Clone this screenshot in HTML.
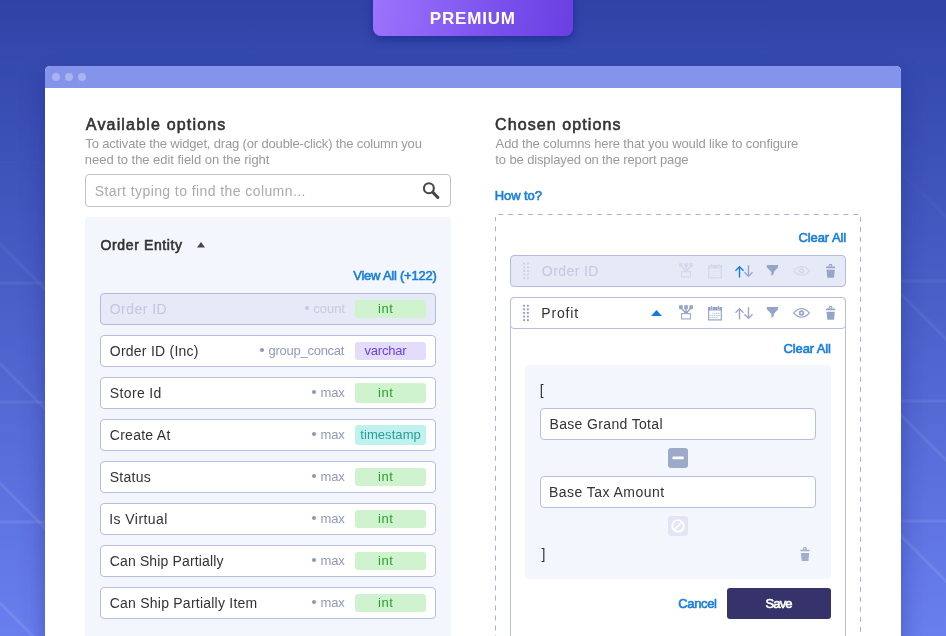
<!DOCTYPE html>
<html lang="en">
<head>
<meta charset="utf-8">
<title>Premium - Column chooser</title>
<style>
*{box-sizing:border-box;margin:0;padding:0}
html,body{width:946px;height:636px;overflow:hidden}
body{position:relative;font-family:"Liberation Sans",sans-serif;background:#3344a8;
 background-image:linear-gradient(180deg,rgb(47,67,167) 0px,rgb(105,127,238) 636px)}
.abs,.t,.row,.badge,.dot,.field,.sq{position:absolute}
.t{line-height:20px;white-space:nowrap}
#bgl{left:0;top:0;width:946px;height:636px}
#premium{left:373px;top:-10px;width:200px;height:46px;border-radius:8px;
 background:linear-gradient(100deg,#9c74fc 0%,#8c62f5 32%,#7a50ec 62%,#693fe2 100%);
 box-shadow:0 3px 10px rgba(20,28,130,.55)}
#card{left:45px;top:66px;width:856px;height:600px;border-radius:5px 5px 0 0;background:#fff;
 box-shadow:0 14px 24px rgba(30,36,130,.42)}
#bar{left:45px;top:66px;width:856px;height:22px;border-radius:5px 5px 0 0;background:#8394ea}
.wd{position:absolute;top:73px;width:8px;height:8px;border-radius:50%;background:#a9b3f0}
#search{left:85px;top:174px;width:366px;height:33px;border:1px solid #c4c4c4;border-radius:4px;background:#fff}
#lpanel{left:85px;top:217px;width:366px;height:440px;border-radius:4px;background:#f3f6fc}
.row{left:100px;width:336px;height:32px;border:1px solid #b7bee0;border-radius:4px;background:#fff}
.badge{left:355px;width:71px;height:18px;border-radius:3px}
.dot{width:4.4px;height:4.4px;border-radius:50%}
#chosen1{left:510px;top:255px;width:336px;height:32px;border:1px solid #b5bbde;border-radius:4px;background:#e6e9f6}
#profit{left:510px;top:297px;width:336px;height:360px;border:1px solid #b7bee0;border-radius:4px 4px 0 0;background:#fff}
#profithead{left:510px;top:297px;width:336px;height:32px;border:1px solid #b7bee0;border-radius:4px;background:#fff}
#ipanel{left:525px;top:365px;width:306px;height:214px;border-radius:4px;background:#f3f6fc}
.field{left:540px;width:276px;height:32px;border:1px solid #b7bee0;border-radius:4px;background:#fff}
.sq{left:668px;width:20px;height:20px;border-radius:3px}
#save{left:727px;top:588px;width:104px;height:31px;border-radius:3px;background:#36336a}
</style>
</head>
<body>
<svg id="bgl" class="abs" width="946" height="636" viewBox="0 0 946 636"><defs><linearGradient id="lg" gradientUnits="userSpaceOnUse" x1="0" y1="150" x2="0" y2="600"><stop offset="0" stop-color="#fff" stop-opacity="0"/><stop offset="0.3" stop-color="#fff" stop-opacity="0.055"/><stop offset="1" stop-color="#fff" stop-opacity="0.095"/></linearGradient></defs>
<path d="M-5 162 H46" stroke="url(#lg)" stroke-width="3.2" fill="none"/>
<path d="M-5 283 H46" stroke="url(#lg)" stroke-width="3.2" fill="none"/>
<path d="M-5 402 H46" stroke="url(#lg)" stroke-width="3.2" fill="none"/>
<path d="M-5 522 H46" stroke="url(#lg)" stroke-width="3.2" fill="none"/>
<path d="M-5 119 L60 184" stroke="url(#lg)" stroke-width="3.2" fill="none"/>
<path d="M-5 239 L60 304" stroke="url(#lg)" stroke-width="3.2" fill="none"/>
<path d="M-5 358.5 L60 423.5" stroke="url(#lg)" stroke-width="3.2" fill="none"/>
<path d="M-5 478 L60 543" stroke="url(#lg)" stroke-width="3.2" fill="none"/>
<path d="M-5 598 L60 663" stroke="url(#lg)" stroke-width="3.2" fill="none"/>
<path d="M900 161 H950" stroke="url(#lg)" stroke-width="3.2" fill="none"/>
<path d="M900 281 H950" stroke="url(#lg)" stroke-width="3.2" fill="none"/>
<path d="M900 401 H950" stroke="url(#lg)" stroke-width="3.2" fill="none"/>
<path d="M900 521 H950" stroke="url(#lg)" stroke-width="3.2" fill="none"/>
<path d="M880 151 L960 231" stroke="url(#lg)" stroke-width="3.2" fill="none"/>
<path d="M880 273 L960 353" stroke="url(#lg)" stroke-width="3.2" fill="none"/>
<path d="M880 394 L960 474" stroke="url(#lg)" stroke-width="3.2" fill="none"/>
<path d="M880 515 L960 595" stroke="url(#lg)" stroke-width="3.2" fill="none"/></svg>
<div id="premium" class="abs"></div>
<div id="card" class="abs"></div>
<div id="bar" class="abs"></div>
<div class="wd" style="left:52px"></div><div class="wd" style="left:65px"></div><div class="wd" style="left:78px"></div>
<div id="search" class="abs"></div>
<div id="lpanel" class="abs"></div>
<div class="row" style="top:293px;background:#e6e9f6;border-color:#b5bbde"></div>
<div class="badge" style="top:300px;height:18px;background:#cff2cf"></div>
<div class="dot" style="left:304.6px;top:306.0px;background:#c6c9df"></div>
<div class="row" style="top:335px;background:#ffffff;border-color:#b7bee0"></div>
<div class="badge" style="top:342px;height:18px;background:#e3dcfa"></div>
<div class="dot" style="left:259.9px;top:348.0px;background:#8d95ba"></div>
<div class="row" style="top:377px;background:#ffffff;border-color:#b7bee0"></div>
<div class="badge" style="top:383px;height:20px;background:#cff2cf"></div>
<div class="dot" style="left:312.1px;top:390.0px;background:#8d95ba"></div>
<div class="row" style="top:419px;background:#ffffff;border-color:#b7bee0"></div>
<div class="badge" style="top:425px;height:20px;background:#bff1ee"></div>
<div class="dot" style="left:312.1px;top:432.0px;background:#8d95ba"></div>
<div class="row" style="top:461px;background:#ffffff;border-color:#b7bee0"></div>
<div class="badge" style="top:468px;height:18px;background:#cff2cf"></div>
<div class="dot" style="left:312.1px;top:474.0px;background:#8d95ba"></div>
<div class="row" style="top:503px;background:#ffffff;border-color:#b7bee0"></div>
<div class="badge" style="top:510px;height:18px;background:#cff2cf"></div>
<div class="dot" style="left:312.1px;top:516.0px;background:#8d95ba"></div>
<div class="row" style="top:545px;background:#ffffff;border-color:#b7bee0"></div>
<div class="badge" style="top:552px;height:18px;background:#cff2cf"></div>
<div class="dot" style="left:312.1px;top:558.0px;background:#8d95ba"></div>
<div class="row" style="top:587px;background:#ffffff;border-color:#b7bee0"></div>
<div class="badge" style="top:594px;height:18px;background:#cff2cf"></div>
<div class="dot" style="left:312.1px;top:600.0px;background:#8d95ba"></div>
<svg class="abs" style="left:0;top:0" width="946" height="636" viewBox="0 0 946 636"><g fill="#aab1d8"><rect x="498.30" y="214" width="5.00" height="1"/><rect x="508.16" y="214" width="5.00" height="1"/><rect x="518.02" y="214" width="5.00" height="1"/><rect x="527.88" y="214" width="5.00" height="1"/><rect x="537.74" y="214" width="5.00" height="1"/><rect x="547.60" y="214" width="5.00" height="1"/><rect x="557.46" y="214" width="5.00" height="1"/><rect x="567.32" y="214" width="5.00" height="1"/><rect x="577.18" y="214" width="5.00" height="1"/><rect x="587.04" y="214" width="5.00" height="1"/><rect x="596.90" y="214" width="5.00" height="1"/><rect x="606.76" y="214" width="5.00" height="1"/><rect x="616.62" y="214" width="5.00" height="1"/><rect x="626.48" y="214" width="5.00" height="1"/><rect x="636.34" y="214" width="5.00" height="1"/><rect x="646.20" y="214" width="5.00" height="1"/><rect x="656.06" y="214" width="5.00" height="1"/><rect x="665.92" y="214" width="5.00" height="1"/><rect x="675.78" y="214" width="5.00" height="1"/><rect x="685.64" y="214" width="5.00" height="1"/><rect x="695.50" y="214" width="5.00" height="1"/><rect x="705.36" y="214" width="5.00" height="1"/><rect x="715.22" y="214" width="5.00" height="1"/><rect x="725.08" y="214" width="5.00" height="1"/><rect x="734.94" y="214" width="5.00" height="1"/><rect x="744.80" y="214" width="5.00" height="1"/><rect x="754.66" y="214" width="5.00" height="1"/><rect x="764.52" y="214" width="5.00" height="1"/><rect x="774.38" y="214" width="5.00" height="1"/><rect x="784.24" y="214" width="5.00" height="1"/><rect x="794.10" y="214" width="5.00" height="1"/><rect x="803.96" y="214" width="5.00" height="1"/><rect x="813.82" y="214" width="5.00" height="1"/><rect x="823.68" y="214" width="5.00" height="1"/><rect x="833.54" y="214" width="5.00" height="1"/><rect x="843.40" y="214" width="5.00" height="1"/><rect x="853.26" y="214" width="5.00" height="1"/><rect x="495" y="217.00" width="1" height="4.30"/><rect x="495" y="226.28" width="1" height="5.00"/><rect x="495" y="236.26" width="1" height="5.00"/><rect x="495" y="246.24" width="1" height="5.00"/><rect x="495" y="256.22" width="1" height="5.00"/><rect x="495" y="266.20" width="1" height="5.00"/><rect x="495" y="276.18" width="1" height="5.00"/><rect x="495" y="286.16" width="1" height="5.00"/><rect x="495" y="296.14" width="1" height="5.00"/><rect x="495" y="306.12" width="1" height="5.00"/><rect x="495" y="316.10" width="1" height="5.00"/><rect x="495" y="326.08" width="1" height="5.00"/><rect x="495" y="336.06" width="1" height="5.00"/><rect x="495" y="346.04" width="1" height="5.00"/><rect x="495" y="356.02" width="1" height="5.00"/><rect x="495" y="366.00" width="1" height="5.00"/><rect x="495" y="375.98" width="1" height="5.00"/><rect x="495" y="385.96" width="1" height="5.00"/><rect x="495" y="395.94" width="1" height="5.00"/><rect x="495" y="405.92" width="1" height="5.00"/><rect x="495" y="415.90" width="1" height="5.00"/><rect x="495" y="425.88" width="1" height="5.00"/><rect x="495" y="435.86" width="1" height="5.00"/><rect x="495" y="445.84" width="1" height="5.00"/><rect x="495" y="455.82" width="1" height="5.00"/><rect x="495" y="465.80" width="1" height="5.00"/><rect x="495" y="475.78" width="1" height="5.00"/><rect x="495" y="485.76" width="1" height="5.00"/><rect x="495" y="495.74" width="1" height="5.00"/><rect x="495" y="505.72" width="1" height="5.00"/><rect x="495" y="515.70" width="1" height="5.00"/><rect x="495" y="525.68" width="1" height="5.00"/><rect x="495" y="535.66" width="1" height="5.00"/><rect x="495" y="545.64" width="1" height="5.00"/><rect x="495" y="555.62" width="1" height="5.00"/><rect x="495" y="565.60" width="1" height="5.00"/><rect x="495" y="575.58" width="1" height="5.00"/><rect x="495" y="585.56" width="1" height="5.00"/><rect x="495" y="595.54" width="1" height="5.00"/><rect x="495" y="605.52" width="1" height="5.00"/><rect x="495" y="615.50" width="1" height="5.00"/><rect x="495" y="625.48" width="1" height="5.00"/><rect x="495" y="635.46" width="1" height="5.00"/><rect x="860" y="217.00" width="1" height="4.8"/><rect x="860" y="227.00" width="1" height="4.8"/><rect x="860" y="237.00" width="1" height="4.8"/><rect x="860" y="247.00" width="1" height="4.8"/><rect x="860" y="257.00" width="1" height="4.8"/><rect x="860" y="267.00" width="1" height="4.8"/><rect x="860" y="277.00" width="1" height="4.8"/><rect x="860" y="287.00" width="1" height="4.8"/><rect x="860" y="297.00" width="1" height="4.8"/><rect x="860" y="307.00" width="1" height="4.8"/><rect x="860" y="317.00" width="1" height="4.8"/><rect x="860" y="327.00" width="1" height="4.8"/><rect x="860" y="337.00" width="1" height="4.8"/><rect x="860" y="347.00" width="1" height="4.8"/><rect x="860" y="357.00" width="1" height="4.8"/><rect x="860" y="367.00" width="1" height="4.8"/><rect x="860" y="377.00" width="1" height="4.8"/><rect x="860" y="387.00" width="1" height="4.8"/><rect x="860" y="397.00" width="1" height="4.8"/><rect x="860" y="407.00" width="1" height="4.8"/><rect x="860" y="417.00" width="1" height="4.8"/><rect x="860" y="427.00" width="1" height="4.8"/><rect x="860" y="437.00" width="1" height="4.8"/><rect x="860" y="447.00" width="1" height="4.8"/><rect x="860" y="457.00" width="1" height="4.8"/><rect x="860" y="467.00" width="1" height="4.8"/><rect x="860" y="477.00" width="1" height="4.8"/><rect x="860" y="487.00" width="1" height="4.8"/><rect x="860" y="497.00" width="1" height="4.8"/><rect x="860" y="507.00" width="1" height="4.8"/><rect x="860" y="517.00" width="1" height="4.8"/><rect x="860" y="527.00" width="1" height="4.8"/><rect x="860" y="537.00" width="1" height="4.8"/><rect x="860" y="547.00" width="1" height="4.8"/><rect x="860" y="557.00" width="1" height="4.8"/><rect x="860" y="567.00" width="1" height="4.8"/><rect x="860" y="577.00" width="1" height="4.8"/><rect x="860" y="587.00" width="1" height="4.8"/><rect x="860" y="597.00" width="1" height="4.8"/><rect x="860" y="607.00" width="1" height="4.8"/><rect x="860" y="617.00" width="1" height="4.8"/><rect x="860" y="627.00" width="1" height="4.8"/><rect x="860" y="637.00" width="1" height="4.8"/></g></svg>
<div id="chosen1" class="abs"></div>
<div id="profit" class="abs"></div>
<div id="profithead" class="abs"></div>
<div id="ipanel" class="abs"></div>
<div class="field" style="top:408px"></div>
<div class="field" style="top:476px"></div>
<div class="sq" style="top:448px;background:#9da9c9"></div>
<div class="sq" style="top:516px;background:#e1e5f4"></div>
<div id="save" class="abs"></div>
<div id="txt" class="abs" style="left:0;top:0;width:946px;height:636px;will-change:transform">
<div class="t" style="left:429.75px;top:9px;font-size:17px;font-weight:700;color:#ffffff;letter-spacing:0.833px;">PREMIUM</div>
<div class="t" style="left:85.85px;top:115px;font-size:16px;font-weight:400;color:#333333;letter-spacing:1.172px;-webkit-text-stroke:0.6px currentColor;">Available options</div>
<div class="t" style="left:85.35px;top:134px;font-size:13px;font-weight:400;color:#9a9a9a;letter-spacing:-0.160px;">To activate the widget, drag (or double-click) the column you</div>
<div class="t" style="left:84.85px;top:150px;font-size:13px;font-weight:400;color:#9a9a9a;letter-spacing:-0.035px;">need to the edit field on the right</div>
<div class="t" style="left:94.75px;top:181px;font-size:14px;font-weight:400;color:#ababab;letter-spacing:0.417px;">Start typing to find the column...</div>
<div class="t" style="left:100.55px;top:235px;font-size:14px;font-weight:400;color:#333333;letter-spacing:0.623px;-webkit-text-stroke:0.6px currentColor;">Order Entity</div>
<div class="t" style="left:353.25px;top:266px;font-size:13px;font-weight:400;color:#1a7edb;letter-spacing:-0.236px;-webkit-text-stroke:0.6px currentColor;">View All (+122)</div>
<div class="t" style="left:495.10px;top:115px;font-size:16px;font-weight:400;color:#333333;letter-spacing:1.092px;-webkit-text-stroke:0.6px currentColor;">Chosen options</div>
<div class="t" style="left:495.60px;top:134px;font-size:13px;font-weight:400;color:#9a9a9a;letter-spacing:-0.112px;">Add the columns here that you would like to configure</div>
<div class="t" style="left:495.35px;top:150px;font-size:13px;font-weight:400;color:#9a9a9a;letter-spacing:-0.124px;">to be displayed on the report page</div>
<div class="t" style="left:494.85px;top:186px;font-size:13px;font-weight:400;color:#1a7edb;letter-spacing:-0.108px;-webkit-text-stroke:0.6px currentColor;">How to?</div>
<div class="t" style="left:798.45px;top:228px;font-size:13px;font-weight:400;color:#1a7edb;letter-spacing:-0.075px;-webkit-text-stroke:0.6px currentColor;">Clear All</div>
<div class="t" style="left:541.85px;top:261px;font-size:14px;font-weight:400;color:#c4c7e0;letter-spacing:0.421px;">Order ID</div>
<div class="t" style="left:541.35px;top:303px;font-size:14px;font-weight:400;color:#333333;letter-spacing:0.830px;">Profit</div>
<div class="t" style="left:783.55px;top:339px;font-size:13px;font-weight:400;color:#1a7edb;letter-spacing:-0.125px;-webkit-text-stroke:0.6px currentColor;">Clear All</div>
<div class="t" style="left:539.80px;top:380px;font-size:14px;font-weight:400;color:#333333;letter-spacing:0.000px;">[</div>
<div class="t" style="left:549.45px;top:414px;font-size:14px;font-weight:400;color:#333333;letter-spacing:0.350px;">Base Grand Total</div>
<div class="t" style="left:548.95px;top:482px;font-size:14px;font-weight:400;color:#333333;letter-spacing:0.461px;">Base Tax Amount</div>
<div class="t" style="left:541.60px;top:544px;font-size:14px;font-weight:400;color:#333333;letter-spacing:0.000px;">]</div>
<div class="t" style="left:678.35px;top:594px;font-size:13px;font-weight:400;color:#1a7edb;letter-spacing:-0.370px;-webkit-text-stroke:0.6px currentColor;">Cancel</div>
<div class="t" style="left:765.55px;top:594px;font-size:13px;font-weight:400;color:#ffffff;letter-spacing:-0.900px;-webkit-text-stroke:0.6px currentColor;">Save</div>
<div class="t" style="left:109.75px;top:299px;font-size:14px;font-weight:400;color:#c4c7e0;letter-spacing:0.464px;">Order ID</div>
<div class="t" style="left:313.30px;top:299px;font-size:13px;font-weight:400;color:#c6c9df;letter-spacing:-0.038px;">count</div>
<div class="t" style="left:377.95px;top:299px;font-size:13px;font-weight:400;color:#2aa12a;letter-spacing:0.550px;">int</div>
<div class="t" style="left:109.75px;top:341px;font-size:14px;font-weight:400;color:#333333;letter-spacing:0.246px;">Order ID (Inc)</div>
<div class="t" style="left:268.60px;top:341px;font-size:13px;font-weight:400;color:#9299b8;letter-spacing:-0.268px;">group_concat</div>
<div class="t" style="left:364.50px;top:341px;font-size:13px;font-weight:400;color:#6a40e0;letter-spacing:-0.200px;">varchar</div>
<div class="t" style="left:109.75px;top:383px;font-size:14px;font-weight:400;color:#333333;letter-spacing:0.371px;">Store Id</div>
<div class="t" style="left:320.55px;top:383px;font-size:13px;font-weight:400;color:#9299b8;letter-spacing:-0.200px;">max</div>
<div class="t" style="left:377.95px;top:383px;font-size:13px;font-weight:400;color:#2aa12a;letter-spacing:0.550px;">int</div>
<div class="t" style="left:109.75px;top:425px;font-size:14px;font-weight:400;color:#333333;letter-spacing:0.275px;">Create At</div>
<div class="t" style="left:320.55px;top:425px;font-size:13px;font-weight:400;color:#9299b8;letter-spacing:-0.200px;">max</div>
<div class="t" style="left:360.25px;top:425px;font-size:13px;font-weight:400;color:#2a9c96;letter-spacing:0.069px;">timestamp</div>
<div class="t" style="left:109.75px;top:467px;font-size:14px;font-weight:400;color:#333333;letter-spacing:0.280px;">Status</div>
<div class="t" style="left:320.55px;top:467px;font-size:13px;font-weight:400;color:#9299b8;letter-spacing:-0.200px;">max</div>
<div class="t" style="left:377.95px;top:467px;font-size:13px;font-weight:400;color:#2aa12a;letter-spacing:0.550px;">int</div>
<div class="t" style="left:109.25px;top:509px;font-size:14px;font-weight:400;color:#333333;letter-spacing:0.433px;">Is Virtual</div>
<div class="t" style="left:320.55px;top:509px;font-size:13px;font-weight:400;color:#9299b8;letter-spacing:-0.200px;">max</div>
<div class="t" style="left:377.95px;top:509px;font-size:13px;font-weight:400;color:#2aa12a;letter-spacing:0.550px;">int</div>
<div class="t" style="left:109.75px;top:551px;font-size:14px;font-weight:400;color:#333333;letter-spacing:0.141px;">Can Ship Partially</div>
<div class="t" style="left:320.55px;top:551px;font-size:13px;font-weight:400;color:#9299b8;letter-spacing:-0.200px;">max</div>
<div class="t" style="left:377.95px;top:551px;font-size:13px;font-weight:400;color:#2aa12a;letter-spacing:0.550px;">int</div>
<div class="t" style="left:109.75px;top:593px;font-size:14px;font-weight:400;color:#333333;letter-spacing:0.230px;">Can Ship Partially Item</div>
<div class="t" style="left:320.55px;top:593px;font-size:13px;font-weight:400;color:#9299b8;letter-spacing:-0.200px;">max</div>
<div class="t" style="left:377.95px;top:593px;font-size:13px;font-weight:400;color:#2aa12a;letter-spacing:0.550px;">int</div>
</div>
<svg class="abs" style="left:0;top:0" width="946" height="636" viewBox="0 0 946 636"><g fill="none" stroke="#4a4543"><circle cx="428.9" cy="188.25" r="4.95" stroke-width="2.1"/><path d="M432.9 192.4 L437.9 197.5" stroke-width="3" stroke-linecap="round"/></g>
<path d="M197 247.6 L201 242.1 L205 247.6 Z" fill="#4a4440"/>
<path d="M651.1 316 L656.5 309.9 L661.9 316 Z" fill="#1279e0"/>
<g fill="#8f9cc9"><rect x="523.1" y="304.8" width="1.9" height="1.9"/><rect x="526.9" y="304.8" width="1.9" height="1.9"/><rect x="523.1" y="308.4" width="1.9" height="1.9"/><rect x="526.9" y="308.4" width="1.9" height="1.9"/><rect x="523.1" y="312.0" width="1.9" height="1.9"/><rect x="526.9" y="312.0" width="1.9" height="1.9"/><rect x="523.1" y="315.6" width="1.9" height="1.9"/><rect x="526.9" y="315.6" width="1.9" height="1.9"/><rect x="523.1" y="319.2" width="1.9" height="1.9"/><rect x="526.9" y="319.2" width="1.9" height="1.9"/></g>
<g fill="#cdd2ea"><rect x="523.1" y="262.8" width="1.9" height="1.9"/><rect x="526.9" y="262.8" width="1.9" height="1.9"/><rect x="523.1" y="266.4" width="1.9" height="1.9"/><rect x="526.9" y="266.4" width="1.9" height="1.9"/><rect x="523.1" y="270.0" width="1.9" height="1.9"/><rect x="526.9" y="270.0" width="1.9" height="1.9"/><rect x="523.1" y="273.6" width="1.9" height="1.9"/><rect x="526.9" y="273.6" width="1.9" height="1.9"/><rect x="523.1" y="277.2" width="1.9" height="1.9"/><rect x="526.9" y="277.2" width="1.9" height="1.9"/></g>
<g><g fill="#97a4c9" stroke="none">
<rect x="679.1" y="305.2" width="3.6" height="3.85"/><rect x="684.25" y="305.2" width="3.6" height="3.85"/><rect x="689.35" y="305.2" width="3.6" height="3.85"/>
<rect x="685.3" y="308.8" width="1.5" height="4.6"/>
<path d="M680.9 309 l1.1 -1 l4.2 4.3 l-1.1 1 z"/><path d="M691.2 309 l-1.1 -1 l-4.2 4.3 l1.1 1 z"/>
<rect x="684.2" y="312" width="3.7" height="1.3"/>
</g><rect x="681.6" y="313.65" width="8.85" height="5.3" fill="none" stroke="#97a4c9" stroke-width="1.05"/><g><rect x="708.7" y="307.7" width="12.6" height="12.2" fill="none" stroke="#97a4c9" stroke-width="1.2"/>
<rect x="708.1" y="307.1" width="13.8" height="3.4" fill="#97a4c9"/>
<rect x="710.7" y="305.6" width="1.8" height="4.4" fill="#fff" fill-opacity=".85"/><rect x="717.6" y="305.6" width="1.8" height="4.4" fill="#fff" fill-opacity=".85"/>
<rect x="711.1" y="305.9" width="1" height="3.9" fill="#97a4c9"/><rect x="718" y="305.9" width="1" height="3.9" fill="#97a4c9"/>
<g stroke="#b4bdd8" stroke-width="0.9" stroke-dasharray="1.3 0.5" fill="none"><path d="M712.3 313.4 H720"/><path d="M710.2 315.4 H720"/><path d="M710.2 317.4 H718"/></g></g><g fill="none" stroke-width="1.35" stroke-linecap="butt" stroke-linejoin="miter">
<path d="M739.5 319.6 V308.6 M735.5 312.7 L739.5 308.6 L743.5 312.7" stroke="#97a4c9"/>
<path d="M748.5 307.3 V318.3 M744.5 314.3 L748.5 318.4 L752.5 314.3" stroke="#97a4c9"/></g><path d="M766.8 307.1 H778.1 V309.2 L773.8 313.9 V315.9 L771.4 317.9 V313.9 L766.8 309.2 Z" fill="#97a4c9"/><g fill="none" stroke="#97a4c9"><path d="M793.7 312.9 C796.5 309.6 799 308.6 801.55 308.6 C804.1 308.6 806.6 309.6 809.4 312.9 C806.6 316.2 804.1 317.2 801.55 317.2 C799 317.2 796.5 316.2 793.7 312.9 Z" stroke-width="1.15" stroke-linejoin="round"/>
<circle cx="801.5" cy="312.9" r="1.85" stroke-width="1.75"/></g><g fill="#97a4c9"><path d="M829.2 305.9 H831.8 L832.6 308.6 H828.4 Z M829.9 307 V308 H831.1 V307 Z" fill-rule="evenodd"/>
<rect x="825.9" y="308.5" width="9.3" height="1.65" rx=".7"/>
<path d="M826.5 311.85 H834.8 L834 319.7 H827.3 Z"/></g></g>
<g transform="translate(0,-42)"><g fill="#d3d8ec" stroke="none">
<rect x="679.1" y="305.2" width="3.6" height="3.85"/><rect x="684.25" y="305.2" width="3.6" height="3.85"/><rect x="689.35" y="305.2" width="3.6" height="3.85"/>
<rect x="685.3" y="308.8" width="1.5" height="4.6"/>
<path d="M680.9 309 l1.1 -1 l4.2 4.3 l-1.1 1 z"/><path d="M691.2 309 l-1.1 -1 l-4.2 4.3 l1.1 1 z"/>
<rect x="684.2" y="312" width="3.7" height="1.3"/>
</g><rect x="681.6" y="313.65" width="8.85" height="5.3" fill="none" stroke="#d3d8ec" stroke-width="1.05"/><g><rect x="708.7" y="307.7" width="12.6" height="12.2" fill="none" stroke="#d3d8ec" stroke-width="1.2"/>
<rect x="708.1" y="307.1" width="13.8" height="3.4" fill="#d3d8ec"/>
<rect x="710.7" y="305.6" width="1.8" height="4.4" fill="#e6e9f6"/><rect x="717.6" y="305.6" width="1.8" height="4.4" fill="#e6e9f6"/>
<rect x="711.1" y="305.9" width="1" height="3.9" fill="#d3d8ec"/><rect x="718" y="305.9" width="1" height="3.9" fill="#d3d8ec"/>
<g stroke="#dde1f0" stroke-width="0.9" stroke-dasharray="1.3 0.5" fill="none"><path d="M712.3 313.4 H720"/><path d="M710.2 315.4 H720"/><path d="M710.2 317.4 H718"/></g></g><g fill="none" stroke-width="1.35" stroke-linecap="butt" stroke-linejoin="miter">
<path d="M739.5 319.6 V308.6 M735.5 312.7 L739.5 308.6 L743.5 312.7" stroke="#1279e0"/>
<path d="M748.5 307.3 V318.3 M744.5 314.3 L748.5 318.4 L752.5 314.3" stroke="#97a4c9"/></g><path d="M766.8 307.1 H778.1 V309.2 L773.8 313.9 V315.9 L771.4 317.9 V313.9 L766.8 309.2 Z" fill="#97a4c9"/><g fill="none" stroke="#d3d8ec"><path d="M793.7 312.9 C796.5 309.6 799 308.6 801.55 308.6 C804.1 308.6 806.6 309.6 809.4 312.9 C806.6 316.2 804.1 317.2 801.55 317.2 C799 317.2 796.5 316.2 793.7 312.9 Z" stroke-width="1.15" stroke-linejoin="round"/>
<circle cx="801.5" cy="312.9" r="1.85" stroke-width="1.75"/></g><g fill="#97a4c9"><path d="M829.2 305.9 H831.8 L832.6 308.6 H828.4 Z M829.9 307 V308 H831.1 V307 Z" fill-rule="evenodd"/>
<rect x="825.9" y="308.5" width="9.3" height="1.65" rx=".7"/>
<path d="M826.5 311.85 H834.8 L834 319.7 H827.3 Z"/></g></g>
<g transform="translate(-25.6,241.2)"><g fill="#a3aeca"><path d="M829.2 305.9 H831.8 L832.6 308.6 H828.4 Z M829.9 307 V308 H831.1 V307 Z" fill-rule="evenodd"/>
<rect x="825.9" y="308.5" width="9.3" height="1.65" rx=".7"/>
<path d="M826.5 311.85 H834.8 L834 319.7 H827.3 Z"/></g></g>
<rect x="672.3" y="456.5" width="11.6" height="2.8" rx="1.2" fill="#fff"/>
<g fill="none" stroke="#fff" stroke-width="1.9"><circle cx="678.05" cy="525.9" r="5.8"/><path d="M674 530 L682.1 521.8"/></g></svg>
</body>
</html>
